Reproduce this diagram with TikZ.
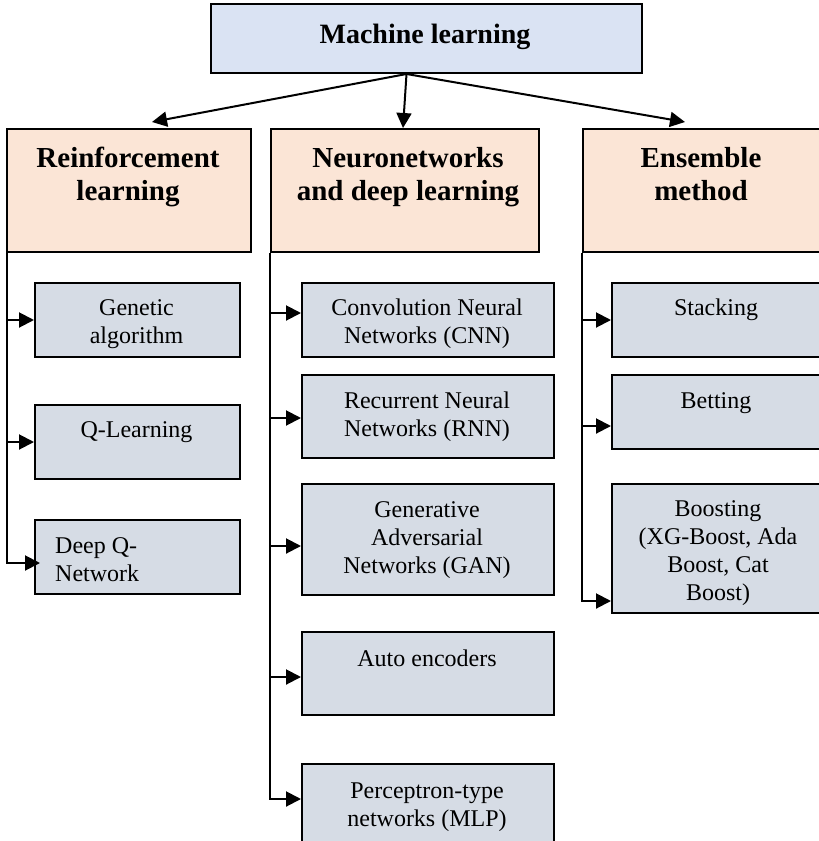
\documentclass[tikz,border=0pt]{standalone}
\usepackage{fontspec}
\setmainfont{Liberation Serif}
\usetikzlibrary{arrows.meta,calc}
\definecolor{topblue}{RGB}{218,227,243}
\definecolor{peach}{RGB}{251,229,214}
\definecolor{itemgray}{RGB}{214,220,229}
\begin{document}
\begin{tikzpicture}[x=1pt,y=-1pt,
  box/.style={draw=black, line width=2pt, inner sep=0pt, rectangle, anchor=north west},
  topbox/.style={box, fill=topblue},
  hdbox/.style={box, fill=peach},
  itbox/.style={box, fill=itemgray},
  ttl/.style={font=\fontsize{28}{33}\selectfont\bfseries, align=center, anchor=base, inner sep=0pt},
  hd/.style={font=\fontsize{29}{33}\selectfont\bfseries, align=center, anchor=base, inner sep=0pt},
  it/.style={font=\fontsize{24}{28}\selectfont, align=center, anchor=base, inner sep=0pt},
  conn/.style={line width=2pt, -{Triangle[length=15pt,width=15pt]}}
]
\useasboundingbox (0,0) rectangle (819,841);

% top
\node[topbox, minimum width=431pt, minimum height=69pt] (ml) at (210,3) {};
\node[ttl] (mlT) at (425,43) {Machine learning};

% level 2
\node[hdbox, minimum width=244pt, minimum height=123pt] (rl) at (6,128) {};
\node[hdbox, minimum width=268pt, minimum height=123pt] (nn) at (270,128) {};
\node[hdbox, minimum width=240pt, minimum height=123pt] (en) at (582,128) {};
\node[hd] (rlT) at (128,200) {Reinforcement\\learning};
\node[hd] (nnT) at (408,200) {Neuronetworks\\and deep learning};
\node[hd] (enT) at (701,200) {Ensemble\\method};

% left column
\node[itbox, minimum width=205pt, minimum height=74pt] (ga) at (34,282) {};
\node[itbox, minimum width=205pt, minimum height=74pt] (ql) at (34,404) {};
\node[itbox, minimum width=205pt, minimum height=74pt] (dq) at (34,519) {};
\node[it] (gaT) at (136.5,343) {Genetic\\algorithm};
\node[it] (qlT) at (136.5,437) {Q-Learning};
\node[it, align=left, anchor=base west] (dqT) at (55,581) {Deep Q-\\Network};

% middle column
\node[itbox, minimum width=252pt, minimum height=74pt] (cnn) at (301,282) {};
\node[itbox, minimum width=252pt, minimum height=83pt] (rnn) at (301,374) {};
\node[itbox, minimum width=252pt, minimum height=111pt] (gan) at (301,483) {};
\node[itbox, minimum width=252pt, minimum height=83pt] (ae) at (301,631) {};
\node[itbox, minimum width=252pt, minimum height=84pt] (mlp) at (301,763) {};
\node[it] (cnnT) at (427,343) {Convolution Neural\\Networks (CNN)};
\node[it] (rnnT) at (427,436) {Recurrent Neural\\Networks (RNN)};
\node[it] (ganT) at (427,573) {Generative\\Adversarial\\Networks (GAN)};
\node[it] (aeT) at (427,666) {Auto encoders};
\node[it] (mlpT) at (427,826) {Perceptron-type\\networks (MLP)};

% right column
\node[itbox, minimum width=214pt, minimum height=74pt] (st) at (611,282) {};
\node[itbox, minimum width=214pt, minimum height=74pt] (bt) at (611,374) {};
\node[itbox, minimum width=214pt, minimum height=129pt] (bo) at (611,483) {};
\node[it] (stT) at (716,315) {Stacking};
\node[it] (btT) at (716,408) {Betting};
\node[it] (boT) at (718,600) {Boosting\\(XG-Boost, Ada\\Boost, Cat\\Boost)};

% top arrows
\draw[conn] ([xshift=-20pt]ml.south) -- ([xshift=23pt,yshift=6pt]rl.north);
\draw[conn] ([xshift=-20pt]ml.south) -- ([xshift=-2pt]nn.north);
\draw[conn] ([xshift=-20pt]ml.south) -- ([xshift=-18pt,yshift=6pt]en.north);

% left connectors
\draw[conn] ([xshift=1pt]rl.south west) |- (ga.west);
\draw[conn] ([xshift=1pt]rl.south west) |- (ql.west);
\draw[conn] ([xshift=1pt]rl.south west) |- ([xshift=6pt,yshift=-6pt]dq.west);

% middle connectors
\draw[conn] (nn.south west) |- ([yshift=7pt]cnn.west);
\draw[conn] (nn.south west) |- ([yshift=-1.5pt]rnn.west);
\draw[conn] (nn.south west) |- ([yshift=-6.5pt]gan.west);
\draw[conn] (nn.south west) |- ([yshift=-3.5pt]ae.west);
\draw[conn] (nn.south west) |- ([yshift=7pt]mlp.west);

% right connectors
\draw[conn] (en.south west) |- (st.west);
\draw[conn] (en.south west) |- ([yshift=-14pt]bt.west);
\draw[conn] (en.south west) |- ([yshift=-52.5pt]bo.west);
\end{tikzpicture}
\end{document}
